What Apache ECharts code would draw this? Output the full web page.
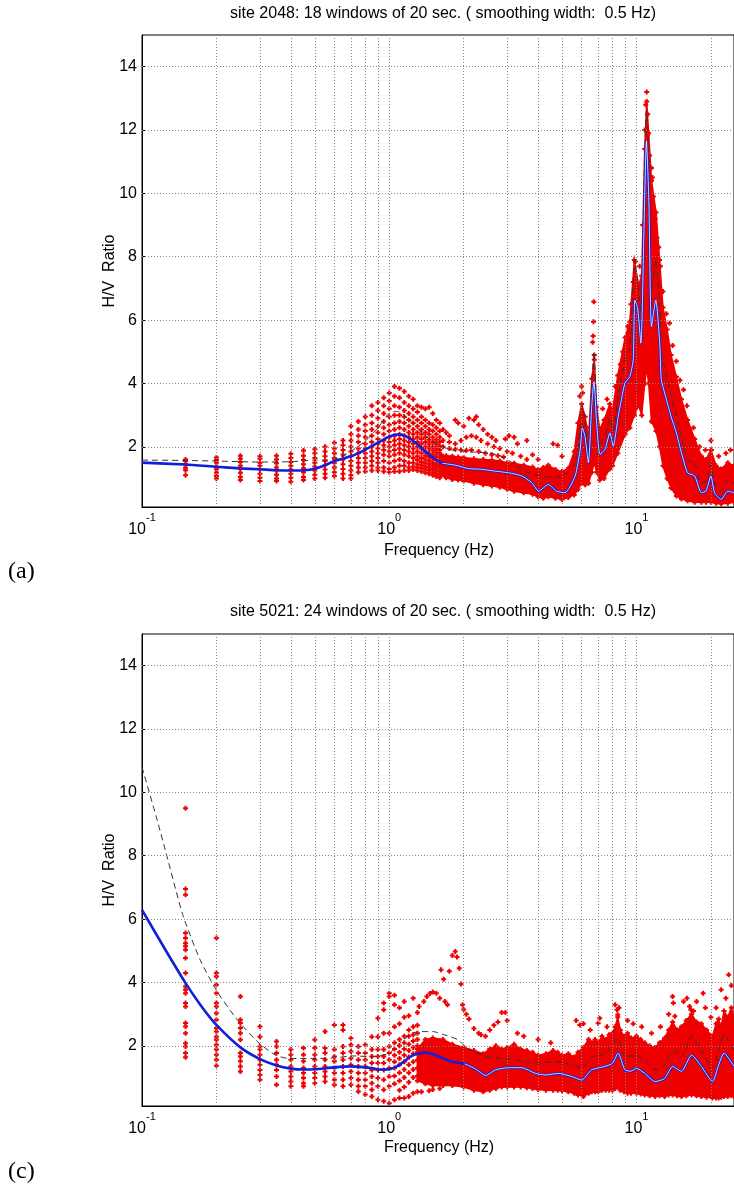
<!DOCTYPE html>
<html><head><meta charset="utf-8">
<script src="https://cdn.jsdelivr.net/npm/echarts@6.0.0/dist/echarts.min.js"></script>
<style>html,body{margin:0;padding:0;background:#fff}#c{width:734px;height:1184px}</style>
</head><body><div id="c"></div>
<script>
// ---------- shared tick values ----------
const xGridVals = [0.2,0.3,0.4,0.5,0.6,0.7,0.8,0.9,1,2,3,4,5,6,7,8,9,10,20];
const yTickVals = [2,4,6,8,10,12,14];

// ---------- panel (a): site 2048 ----------
const titleA = 'site 2048: 18 windows of 20 sec. ( smoothing width:  0.5 Hz)';
const meanFreqA = [0.1,0.15,0.2,0.25,0.3,0.35,0.4,0.45,0.5,0.55,0.6,0.65,0.7,0.75,0.8,0.85,0.9,0.95,1.0,1.08,1.15,1.28,1.445,1.64,1.85,2.1,2.37,2.69,3.04,3.44,3.77,4.02,4.4,4.75,5.14,5.65,5.92,6.04,6.19,6.39,6.59,6.73,6.9,7.12,7.46,7.81,8.05,8.44,8.98,9.4,9.7,9.85,10.1,10.42,10.73,10.97,11.22,11.5,11.97,12.42,12.6,13.0,13.8,14.5,15.2,16.1,17.2,18.3,19.1,20.0,20.7,22.0,23.4,24.8];
const meanA = [1.50,1.44,1.37,1.32,1.29,1.26,1.25,1.26,1.31,1.42,1.55,1.63,1.70,1.80,1.91,2.02,2.13,2.23,2.33,2.39,2.36,2.13,1.76,1.48,1.42,1.31,1.29,1.23,1.18,1.08,0.87,0.60,0.81,0.60,0.55,1.08,1.92,2.60,2.33,1.50,3.28,4.06,2.75,1.76,1.92,2.44,2.02,2.96,4.01,4.22,4.75,6.63,6.40,5.27,8.94,11.66,9.78,5.79,6.63,5.27,4.12,3.70,2.96,2.44,1.81,1.18,1.08,0.55,0.60,1.08,0.55,0.34,0.60,0.55];
const dashFreqA = [0.1,0.15,0.2,0.3,0.4,0.5,0.6,0.7,0.8,0.9,1.0,1.06,1.1,1.2,1.36,1.53,1.74,1.98,2.22,2.52,2.85,3.23,3.65,4.14,4.66,5.27,5.65,5.92,6.04,6.19,6.39,6.59,6.73,6.9,7.12,7.46,7.81,8.05,8.44,8.98,9.4,9.85,10.42,10.73,10.97,11.22,11.5,11.97,12.42,12.6,13.0,13.8,14.5,15.2,16.1,17.2,18.3,19.1,20.0,20.7,22.0,23.4,24.8];
const dashA = [1.58,1.57,1.55,1.52,1.53,1.58,1.60,1.86,2.18,2.60,3.07,3.12,3.10,2.86,2.44,2.13,1.92,1.86,1.83,1.81,1.70,1.44,1.18,1.08,1.03,1.18,1.50,2.60,3.30,2.80,1.90,4.00,5.00,3.30,2.10,2.30,2.90,2.50,3.60,4.80,5.10,7.90,6.30,10.5,12.6,11.3,6.90,7.90,6.30,5.00,4.50,3.60,3.00,2.30,1.60,1.45,0.85,0.90,1.45,0.85,0.60,0.95,0.85];
const colFreqA = [0.15,0.2,0.25,0.3,0.35,0.4,0.45,0.5,0.55,0.6,0.65,0.7,0.75,0.8,0.85,0.9,0.95,1.0,1.05,1.1,1.15,1.2,1.25,1.3,1.35,1.4,1.45,1.5,1.55,1.6];
const colValsA = [
 [1.60,1.55,1.45,1.34,1.26,1.10],
 [1.66,1.58,1.50,1.37,1.29,1.19,1.08,1.00],
 [1.72,1.62,1.52,1.40,1.30,1.18,1.05,0.95],
 [1.70,1.62,1.50,1.40,1.28,1.15,1.02,0.92],
 [1.72,1.60,1.48,1.35,1.25,1.12,1.00,0.92],
 [1.78,1.65,1.52,1.40,1.28,1.15,1.02,0.90],
 [1.88,1.72,1.58,1.45,1.32,1.20,1.05,0.95],
 [1.92,1.80,1.65,1.50,1.38,1.25,1.12,1.00],
 [2.00,1.85,1.70,1.55,1.42,1.28,1.15,1.02],
 [2.13,1.95,1.80,1.65,1.50,1.35,1.20,1.08],
 [2.20,2.05,1.90,1.75,1.60,1.45,1.30,1.15,1.00],
 [2.65,2.40,2.20,2.00,1.85,1.70,1.55,1.40,1.25,1.10,1.00],
 [2.80,2.55,2.35,2.15,1.95,1.80,1.65,1.50,1.35,1.20],
 [2.95,2.70,2.50,2.30,2.10,1.95,1.80,1.65,1.50,1.35,1.22],
 [3.30,3.00,2.75,2.55,2.35,2.15,2.00,1.85,1.70,1.55,1.40,1.25],
 [3.40,3.15,2.90,2.65,2.45,2.25,2.10,1.95,1.80,1.65,1.50,1.35,1.25],
 [3.55,3.30,3.05,2.80,2.60,2.40,2.20,2.05,1.90,1.75,1.55,1.35,1.22],
 [3.70,3.45,3.20,2.95,2.70,2.50,2.30,2.15,2.00,1.85,1.70,1.50,1.30,1.20],
 [3.90,3.60,3.30,3.00,2.75,2.55,2.35,2.20,2.05,1.90,1.75,1.55,1.35,1.22],
 [3.85,3.55,3.25,3.00,2.80,2.60,2.40,2.25,2.10,1.95,1.80,1.60,1.40,1.22],
 [3.75,3.40,3.15,2.95,2.75,2.55,2.35,2.20,2.05,1.90,1.75,1.55,1.40,1.25],
 [3.60,3.30,3.05,2.85,2.65,2.45,2.30,2.15,2.00,1.85,1.70,1.50,1.35,1.25],
 [3.50,3.20,2.95,2.75,2.55,2.40,2.25,2.10,1.95,1.80,1.65,1.50,1.38,1.28],
 [3.30,3.10,2.85,2.65,2.45,2.30,2.15,2.00,1.85,1.70,1.58,1.45,1.35,1.25],
 [3.25,2.95,2.75,2.55,2.40,2.25,2.10,1.95,1.80,1.65,1.52,1.42,1.32,1.22],
 [3.20,2.85,2.65,2.45,2.30,2.15,2.00,1.85,1.72,1.60,1.48,1.38,1.28,1.18],
 [3.25,2.75,2.55,2.40,2.22,2.08,1.95,1.80,1.68,1.55,1.45,1.35,1.25,1.15],
 [3.05,2.70,2.50,2.30,2.15,2.00,1.88,1.75,1.62,1.50,1.40,1.30,1.20,1.10],
 [2.85,2.60,2.40,2.22,2.08,1.95,1.82,1.70,1.58,1.46,1.36,1.26,1.16,1.06],
 [2.75,2.50,2.30,2.15,2.02,1.90,1.78,1.66,1.54,1.42,1.32,1.22,1.12,1.02]
];
const bandFreqA = [1.62,1.7,1.8,1.9,2.0,2.2,2.4,2.6,2.8,3.0,3.2,3.5,3.8,4.0,4.2,4.4,4.7,5.0,5.3,5.6,5.8,6.0,6.2,6.4,6.6,6.75,6.9,7.1,7.4,7.8,8.0,8.4,9.0,9.4,9.8,10.2,10.5,10.8,11.0,11.2,11.5,12.0,12.4,12.8,13.3,13.8,14.5,15.2,16.1,17.2,18.3,19.1,20.0,21.0,22.0,23.4,24.8];
const bandLowA = [1.10,1.02,0.97,0.95,0.92,0.85,0.80,0.76,0.72,0.66,0.60,0.55,0.50,0.42,0.38,0.42,0.38,0.34,0.40,0.48,0.65,0.85,0.80,0.85,1.20,1.50,1.20,0.95,1.00,1.30,1.40,1.80,2.40,2.60,3.00,3.30,3.00,4.00,4.50,4.00,2.80,2.50,2.00,1.40,1.00,0.70,0.45,0.35,0.30,0.25,0.25,0.25,0.25,0.22,0.20,0.22,0.25];
const bandHighA = [1.75,1.72,1.70,1.68,1.66,1.62,1.60,1.58,1.55,1.50,1.48,1.42,1.36,1.28,1.35,1.42,1.28,1.22,1.32,1.85,2.75,3.35,2.95,2.25,4.15,4.75,3.25,2.55,2.85,3.35,3.15,4.25,5.45,5.95,7.90,7.10,7.40,11.4,12.9,11.9,10.4,9.40,7.90,6.40,5.70,4.90,4.20,3.50,2.85,2.25,1.70,1.60,1.90,1.40,1.30,1.50,1.40];
const outA = [[1.65,2.55],[1.7,2.45],[1.75,2.35],[1.85,2.85],[1.9,2.75],[2.0,2.65],[2.1,2.9],[2.2,2.85],[2.25,2.95],[2.3,2.7],[2.4,2.55],[2.5,2.4],[2.6,2.3],[2.7,2.2],[2.95,2.25],[3.05,2.35],[3.2,2.3],[3.3,2.1],[3.6,2.2],[3.8,1.75],[4.0,1.6],[4.6,2.1],[4.8,2.05],[5.0,1.7],
 [1.65,2.0],[1.75,1.95],[1.85,1.92],[1.95,1.9],[2.05,1.88],[2.15,1.9],[2.3,1.85],[2.45,1.8],[2.6,1.75],[2.75,1.72],[2.9,1.68],
 [1.65,2.2],[1.75,2.15],[1.85,2.1],[1.95,2.2],[2.05,2.3],[2.15,2.35],[2.25,2.3],[2.35,2.2],[2.5,2.1],[2.65,2.0],[2.8,1.95],[3.0,1.85],[3.15,1.8],[3.4,1.7],[3.6,1.6],
 [5.9,3.6],[6.0,3.9],[6.05,3.7],[6.3,2.6],[6.65,5.3],[6.68,5.5],[6.7,5.95],[6.72,6.58],[6.75,4.9],[7.3,3.2],[7.6,3.5],[8.2,3.9],[8.6,4.6],[8.8,5.0],[9.2,5.8],[9.5,6.5],[9.7,7.2],[9.9,7.85],[10.0,6.9],[10.3,7.7],[10.6,9.0],[10.8,12.0],[10.9,12.8],[11.0,13.2],[11.1,12.5],[11.05,11.8],[11.3,11.2],[11.5,10.8],[11.6,10.5],[11.7,9.9],[11.9,9.2],[12.1,8.6],[12.3,8.3],[12.5,7.7],[12.8,6.9],[13.2,6.2],[13.6,5.9],[14.0,5.2],[14.5,4.7],[15.0,4.1],[15.5,3.8],[16.0,3.3],[17.0,2.6],[18.0,2.0],[19.0,1.9],[20.0,2.2],[20.1,1.9],[21.5,1.7],[23.0,1.8],[24.0,1.9]];

// ---------- panel (c): site 5021 ----------
const titleC = 'site 5021: 24 windows of 20 sec. ( smoothing width:  0.5 Hz)';
const meanFreqC = [0.1,0.125,0.15,0.175,0.2,0.25,0.3,0.35,0.4,0.45,0.5,0.6,0.7,0.85,0.91,1.0,1.1,1.24,1.42,1.59,1.79,2.02,2.2,2.31,2.45,2.69,3.04,3.44,3.9,4.28,4.84,5.47,6.0,6.58,7.46,8.0,8.43,8.98,9.5,10.0,10.8,11.9,13.0,14.0,15.2,16.7,18.3,20.3,21.5,22.6,24.8];
const meanC = [6.29,5.00,3.98,3.22,2.66,1.95,1.58,1.38,1.28,1.25,1.26,1.32,1.35,1.30,1.25,1.26,1.40,1.69,1.79,1.66,1.50,1.43,1.30,1.19,1.06,1.24,1.31,1.31,1.13,1.08,1.13,1.03,0.92,1.24,1.35,1.45,1.77,1.24,1.20,1.29,1.13,0.87,0.97,1.35,1.19,1.71,1.35,0.87,1.40,1.77,1.35];
const dashFreqC = [0.1,0.114,0.125,0.146,0.171,0.2,0.244,0.298,0.348,0.394,0.5,0.6,0.71,0.85,1.0,1.1,1.24,1.35,1.5,1.68,1.9,2.06,2.45,3.2,3.9,4.8,5.5,6.0,6.6,7.5,8.4,9.0,10.0,11.9,13.0,14.0,15.2,16.7,18.3,20.3,22.6,24.8];
const dashC = [10.8,9.25,8.10,6.15,4.75,3.75,2.80,2.08,1.70,1.60,1.60,1.62,1.68,1.66,1.76,2.08,2.40,2.45,2.45,2.34,2.19,1.93,1.66,1.56,1.45,1.50,1.40,1.30,1.65,1.75,2.25,1.65,1.70,1.25,1.40,1.85,1.65,2.30,1.85,1.30,2.35,1.85];
const colFreqC = [0.15,0.2,0.25,0.3,0.35,0.4,0.45,0.5,0.55,0.6,0.65,0.7,0.75,0.8,0.85,0.9,0.95,1.0,1.05,1.1,1.15,1.2,1.25,1.3];
const colValsC = [
 [9.5,6.95,6.77,5.56,5.40,5.24,5.14,5.03,4.77,4.30,3.87,3.77,3.66,3.35,3.24,2.72,2.61,2.40,2.08,1.98,1.77,1.64],
 [5.40,4.30,4.19,3.93,3.66,3.35,3.24,3.03,2.82,2.56,2.45,2.29,2.19,2.03,1.88,1.72,1.56,1.37],
 [3.56,2.82,2.72,2.56,2.40,2.19,1.77,1.66,1.51,1.35,1.19],
 [2.61,2.29,1.98,1.88,1.72,1.56,1.40,1.24,1.08,0.93],
 [2.14,1.98,1.77,1.56,1.40,1.24,1.03,0.77],
 [1.88,1.72,1.56,1.35,1.19,1.03,0.87,0.72],
 [1.93,1.72,1.51,1.30,1.14,0.98,0.82,0.72],
 [2.19,1.93,1.72,1.56,1.35,1.14,0.98,0.82],
 [2.45,1.93,1.77,1.56,1.35,1.19,1.03,0.87],
 [2.66,1.88,1.66,1.51,1.30,1.14,0.93,0.77],
 [2.66,2.50,1.98,1.77,1.56,1.35,1.14,0.93,0.72],
 [2.24,2.03,1.82,1.61,1.40,1.19,0.98,0.77],
 [1.98,1.77,1.56,1.35,1.14,0.93,0.72,0.56],
 [2.03,1.77,1.56,1.35,1.14,0.93,0.72,0.46],
 [2.29,1.88,1.66,1.46,1.24,1.03,0.82,0.61,0.40],
 [2.87,2.29,1.88,1.66,1.46,1.24,0.98,0.72,0.30],
 [3.35,3.14,2.40,1.88,1.66,1.46,1.24,0.93,0.61,0.25],
 [3.66,3.56,2.40,1.98,1.77,1.56,1.30,1.03,0.72,0.19],
 [3.60,3.30,2.60,2.10,1.90,1.70,1.50,1.30,1.05,0.80,0.30],
 [3.20,2.70,2.20,2.00,1.80,1.60,1.40,1.15,0.90,0.60,0.35],
 [3.40,2.90,2.30,2.10,1.90,1.70,1.50,1.25,1.00,0.70,0.35],
 [2.95,2.50,2.30,2.05,1.85,1.65,1.40,1.15,0.85,0.40],
 [3.50,2.60,2.35,2.15,1.95,1.75,1.50,1.25,1.00,0.50],
 [3.05,2.65,2.40,2.20,2.00,1.80,1.55,1.30,1.05,0.55]
];
const bandFreqC = [1.3,1.4,1.5,1.65,1.8,2.0,2.2,2.4,2.55,2.7,2.85,3.0,3.2,3.4,3.6,3.8,4.0,4.3,4.6,4.8,5.0,5.3,5.6,5.8,6.1,6.4,6.6,6.8,7.0,7.25,7.5,7.75,8.0,8.2,8.4,8.6,8.9,9.2,9.5,10.0,10.4,10.8,11.3,11.9,12.4,13.0,13.5,14.0,14.6,15.2,15.9,16.7,17.5,18.3,19.2,20.3,21.0,21.5,22.0,22.6,23.4,24.2,24.8];
const bandLowC = [0.9,0.8,0.75,0.75,0.75,0.70,0.60,0.55,0.6,0.65,0.7,0.70,0.7,0.70,0.68,0.65,0.62,0.60,0.6,0.60,0.58,0.55,0.5,0.45,0.40,0.5,0.55,0.55,0.55,0.6,0.60,0.6,0.60,0.65,0.70,0.6,0.55,0.5,0.50,0.50,0.48,0.45,0.42,0.40,0.42,0.40,0.45,0.45,0.42,0.40,0.42,0.45,0.42,0.40,0.38,0.35,0.35,0.35,0.38,0.40,0.40,0.42,0.40];
const bandHighC = [1.9,2.2,2.25,2.2,2.05,1.95,1.85,1.75,1.9,2.0,1.9,1.95,2.05,1.9,1.85,1.8,1.7,1.75,1.85,1.8,1.7,1.75,1.65,1.8,1.95,2.2,2.1,2.2,2.1,2.3,2.2,2.35,2.4,2.6,2.9,2.5,2.3,2.4,2.25,2.3,2.2,2.1,2.0,1.95,2.1,2.25,2.5,2.75,2.5,2.6,2.8,3.0,2.75,2.7,2.5,2.3,2.7,2.85,2.6,3.1,2.9,3.2,2.9];
const outC = [[1.32,3.24],[1.38,3.40],[1.42,3.56],[1.46,3.65],[1.5,3.70],[1.55,3.66],[1.6,3.50],[1.62,4.40],[1.66,4.10],[1.68,3.40],[1.72,3.30],[1.75,4.35],[1.8,4.85],[1.85,4.98],[1.88,4.80],[1.92,4.45],[1.95,3.95],[1.98,3.30],[2.0,3.15],[2.05,3.00],[2.1,2.85],[2.2,2.55],[2.3,2.40],[2.35,2.35],[2.45,2.30],[2.55,2.50],[2.65,2.65],[2.75,2.75],[2.85,3.05],[2.95,3.05],[3.0,2.80],[1.35,0.55],[1.45,0.58],[1.5,0.62],[1.6,0.65],[3.3,2.40],[3.5,2.30],[4.0,2.20],[4.5,2.10],[5.7,2.80],[5.9,2.66],[6.1,2.70],[6.5,2.50],[7.0,2.71],[7.1,2.87],[7.6,2.60],[8.2,3.30],[8.34,3.14],[8.4,2.98],[8.5,3.20],[9.2,2.80],[9.7,2.70],[10.5,2.60],[11.5,2.40],[12.5,2.60],[13.5,3.00],[14.0,3.56],[14.1,3.35],[14.3,2.93],[15.5,3.40],[16.0,3.50],[16.4,3.24],[16.6,3.14],[17.0,3.10],[17.5,3.40],[18.6,3.66],[19.0,3.20],[20.0,2.90],[21.0,3.20],[22.0,3.77],[23.0,3.50],[23.6,4.24],[24.2,3.90]];

// ---------- build ----------
const FONT = 'Liberation Sans, Arial, Helvetica, sans-serif';
const RED = '#ee0000', BLUE = '#1020d8';
const PLUS = 'path://M1.5,0H3.5V1.5H5V3.5H3.5V5H1.5V3.5H0V1.5H1.5Z';
const panelTops = [35, 634];
const PH = 472, PL = 142, PW = 594;

function pairs(fs, vs) { return fs.map((f, i) => [f, vs[i]]); }

function buildPanel(i, d) {
  const pts = [];
  d.colFreq.forEach((f, k) => d.colVals[k].forEach(v => pts.push([f, v])));
  d.out.forEach(p => pts.push(p));
  d.bandFreq.forEach((f, k) => { pts.push([f, d.bandLow[k]]); pts.push([f, d.bandHigh[k]]); });
  const bandRows = d.bandFreq.map((f, k) => [f, d.bandLow[k], d.bandHigh[k]]);
  const mean = pairs(d.meanFreq, d.mean);
  const core = mean.filter(p => p[0] >= d.coreFrom);
  return [
    { type: 'line', xAxisIndex: i, yAxisIndex: i, data: [], z: 1, silent: true,
      markLine: { silent: true, symbol: ['none', 'none'], label: { show: false },
        lineStyle: { color: '#8a8a8a', type: [1, 2], width: 1 },
        emphasis: { disabled: true },
        data: xGridVals.map(v => ({ xAxis: v })).concat(yTickVals.map(v => ({ yAxis: v }))) } },
    { type: 'custom', xAxisIndex: i, yAxisIndex: i, z: 2, silent: true, clip: true,
      data: bandRows,
      renderItem: function (params, api) {
        if (params.dataIndex !== 0) return null;
        const top = bandRows.map(r => api.coord([r[0], r[2]]));
        const bot = bandRows.slice().reverse().map(r => api.coord([r[0], r[1]]));
        return { type: 'polygon', shape: { points: top.concat(bot) }, style: { fill: RED, stroke: RED, lineWidth: 1.5 } };
      } },
    { type: 'scatter', xAxisIndex: i, yAxisIndex: i, z: 3, silent: true, data: pts,
      symbol: PLUS, symbolSize: 5, itemStyle: { color: RED, opacity: 1 } },
    { type: 'line', xAxisIndex: i, yAxisIndex: i, z: 4, silent: true, data: pairs(d.dashFreq, d.dash),
      showSymbol: false, smooth: 0.2,
      lineStyle: { color: '#333', width: 1, type: [6, 4] } },
    { type: 'line', xAxisIndex: i, yAxisIndex: i, z: 5, silent: true, data: mean,
      showSymbol: false, smooth: 0.2,
      lineStyle: { color: BLUE, width: 2.6 } },
    { type: 'line', xAxisIndex: i, yAxisIndex: i, z: 6, silent: true, data: core,
      showSymbol: false, smooth: 0.2,
      lineStyle: { color: '#fff', width: 0.8 } }
  ];
}

const dataA = { colFreq: colFreqA, colVals: colValsA, out: outA, bandFreq: bandFreqA, bandLow: bandLowA, bandHigh: bandHighA,
  meanFreq: meanFreqA, mean: meanA, dashFreq: dashFreqA, dash: dashA, coreFrom: 1.6 };
const dataC = { colFreq: colFreqC, colVals: colValsC, out: outC, bandFreq: bandFreqC, bandLow: bandLowC, bandHigh: bandHighC,
  meanFreq: meanFreqC, mean: meanC, dashFreq: dashFreqC, dash: dashC, coreFrom: 2.0 };

function xAxisCfg(i) {
  return { type: 'log', logBase: 10, gridIndex: i, min: 0.1, max: 24.8,
    axisLine: { show: true, lineStyle: { color: '#000', width: 1 } },
    axisTick: { show: false }, splitLine: { show: false }, minorTick: { show: false },
    axisLabel: { margin: 5, showMaxLabel: false, color: '#000', fontFamily: FONT,
      formatter: function (v) {
        const e = Math.log10(v);
        if (Math.abs(e - Math.round(e)) > 1e-6) return '';
        return '{b|10}{s|' + Math.round(e) + '}';
      },
      rich: { b: { fontSize: 16, fontFamily: FONT, color: '#000', verticalAlign: 'bottom', padding: [10, 0, 0, 0] },
              s: { fontSize: 11, fontFamily: FONT, color: '#000', verticalAlign: 'top' } } } };
}
function yAxisCfg(i) {
  return { type: 'value', gridIndex: i, min: 0.1, max: 15,
    axisLine: { show: true, lineStyle: { color: '#000', width: 1 } },
    axisTick: { show: true, inside: true, length: 4, customValues: yTickVals, lineStyle: { color: '#000' } },
    splitLine: { show: false },
    axisLabel: { customValues: yTickVals, fontSize: 16, color: '#000', fontFamily: FONT, margin: 5 } };
}

function txt(x, y, s, size, opts) {
  return Object.assign({ type: 'text', x: x, y: y, silent: true,
    style: { text: s, fill: '#000', fontSize: size, fontFamily: (opts && opts.ff) || FONT,
      textAlign: (opts && opts.align) || 'center', textVerticalAlign: 'middle' } },
    opts && opts.rot ? { rotation: opts.rot } : {});
}

const option = {
  animation: false,
  backgroundColor: '#fff',
  grid: panelTops.map(t => ({ left: PL, top: t, width: PW, height: PH, show: true, borderColor: '#000', borderWidth: 1, containLabel: false })),
  xAxis: [xAxisCfg(0), xAxisCfg(1)],
  yAxis: [yAxisCfg(0), yAxisCfg(1)],
  series: buildPanel(0, dataA).concat(buildPanel(1, dataC)),
  graphic: [
    txt(443, 14, titleA, 16),
    txt(443, 612, titleC, 16),
    txt(439, 551, 'Frequency (Hz)', 16),
    txt(439, 1148, 'Frequency (Hz)', 16),
    txt(110, 271, 'H/V  Ratio', 16, { rot: Math.PI / 2 }),
    txt(110, 870, 'H/V  Ratio', 16, { rot: Math.PI / 2 }),
    txt(8, 572, '(a)', 24, { align: 'left', ff: 'Liberation Serif, Times New Roman, serif' }),
    txt(8, 1172, '(c)', 24, { align: 'left', ff: 'Liberation Serif, Times New Roman, serif' })
  ]
};
const chart = echarts.init(document.getElementById('c'), null, { renderer: 'canvas' });
chart.setOption(option);
</script></body></html>
